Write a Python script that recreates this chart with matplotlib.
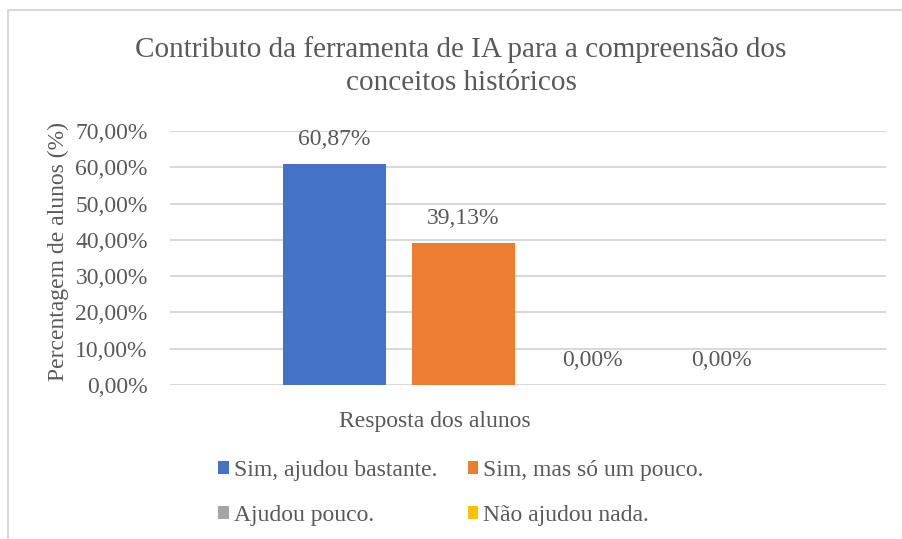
import matplotlib
matplotlib.use('Agg')
import matplotlib.pyplot as plt
from matplotlib.patches import Patch
from matplotlib.lines import Line2D
from matplotlib.ticker import FuncFormatter

# dados do grafico
respostas = ['Sim, ajudou bastante.', 'Sim, mas só um pouco.', 'Ajudou pouco.', 'Não ajudou nada.']
percentagens = [60.87, 39.13, 0.00, 0.00]
cores = ['#4472C4', '#ED7D31', '#A5A5A5', '#FFC000']
yticks = [0, 10, 20, 30, 40, 50, 60, 70]

titulo = 'Contributo da ferramenta de IA para a compreensão dos\nconceitos históricos'
xlabel = 'Resposta dos alunos'
ylabel = 'Percentagem de alunos (%)'

cinza_texto = '#595959'
cinza_linha = '#D9D9D9'

plt.rcParams['font.family'] = ['Liberation Serif', 'DejaVu Serif']


def fmt_pct(v):
    return f'{v:.2f}'.replace('.', ',') + '%'


fig = plt.figure(figsize=(9.02, 5.39), dpi=100)
ax = fig.add_axes([170 / 902, 1 - 385 / 539, 716 / 902, 254 / 539])

passo = 0.18  # distancia entre barras
largura = 0.144
n = len(respostas)
for i, (r, v, c) in enumerate(zip(respostas, percentagens, cores)):
    x = (i - (n - 1) / 2) * passo
    ax.bar(x, v, width=largura, color=c, zorder=3)
    ax.annotate(fmt_pct(v), (x, v), xytext=(0, 18), textcoords='offset points',
                ha='center', va='center', fontsize=17, color=cinza_texto)

ax.set_xlim(-0.5, 0.5)
ax.set_ylim(0, 70)
ax.set_yticks(yticks)
ax.yaxis.set_major_formatter(FuncFormatter(lambda v, p: fmt_pct(v)))
ax.set_xticks([])
ax.tick_params(axis='y', length=0, pad=16, labelsize=17, labelcolor=cinza_texto)
ax.grid(axis='y', color=cinza_linha, linewidth=1.5, zorder=0)
for s in ax.spines.values():
    s.set_visible(False)

fig.text(461 / 902, 1 - 66 / 539, titulo, ha='center', va='center',
         fontsize=21, color=cinza_texto, linespacing=1.32)
fig.text(58 / 902, 1 - 252 / 539, ylabel, rotation=90, ha='center', va='center',
         fontsize=17, color=cinza_texto)
fig.text(435 / 902, 1 - 422 / 539, xlabel, ha='center', va='center',
         fontsize=17, color=cinza_texto)

# legenda em duas colunas, ordem por linhas
handles = [Patch(facecolor=c, label=r) for r, c in zip(respostas, cores)]
ordem = [0, 2, 1, 3]
leg = fig.legend([handles[i] for i in ordem], [respostas[i] for i in ordem],
                 ncol=2, loc='center', bbox_to_anchor=(461 / 902, 1 - 493 / 539),
                 frameon=False, fontsize=17, handlelength=0.45, handleheight=0.45,
                 handletextpad=0.2, columnspacing=1.3, labelspacing=1.0)
for t in leg.get_texts():
    t.set_color(cinza_texto)

# borda da area do grafico (cortada a direita e em baixo)
fig.add_artist(Line2D([8 / 902, 8 / 902, 1.0], [0.0, 1 - 10 / 539, 1 - 10 / 539],
                      transform=fig.transFigure, color=cinza_linha, linewidth=1.5))

fig.savefig('out.png', dpi=100)
